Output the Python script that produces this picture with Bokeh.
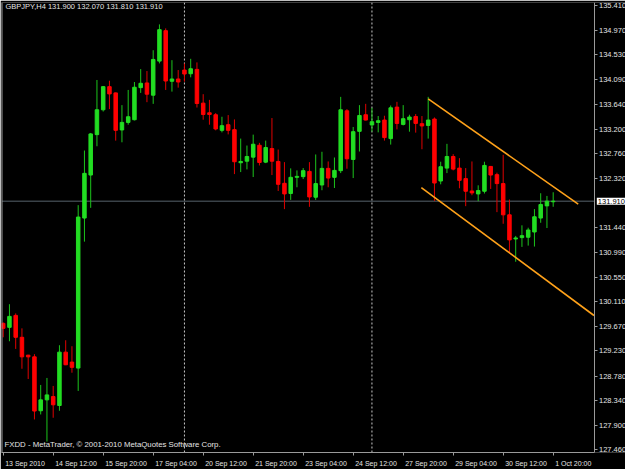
from bokeh.plotting import figure
from bokeh.models import ColumnDataSource, Range1d, FixedTicker, PrintfTickFormatter, Label, Span
from bokeh.embed import file_html
from bokeh.resources import INLINE

# ---------------- data (GBPJPY, H4) ----------------
opens = [129.723, 129.652, 129.866, 129.474, 129.154, 129.124, 128.159, 128.354, 128.413, 128.253,
         129.208, 129.030, 128.923, 131.608, 132.378, 133.101, 133.546, 133.960, 133.848, 133.185,
         133.320, 133.368, 133.942, 134.026, 133.807, 134.417, 134.962, 134.056, 134.097, 134.257,
         134.191, 134.269, 133.665, 133.492, 133.457, 133.178, 133.279, 133.190, 132.598, 132.626,
         132.698, 132.911, 132.609, 132.852, 132.621, 132.230, 132.047, 132.337, 132.349, 132.443,
         131.981, 132.200, 132.497, 132.337, 132.456, 133.528, 132.657, 133.160, 133.457, 133.274,
         133.320, 133.362, 133.030, 133.594, 133.284, 133.368, 133.426, 133.297, 133.266, 133.380,
         132.271, 132.502, 132.710, 132.502, 132.314, 132.093, 132.040, 132.088, 132.532, 132.385,
         132.225, 131.666, 131.234, 131.258, 131.265, 131.359, 131.608, 131.826, 131.900]
highs = [129.741, 130.066, 129.901, 129.634, 129.160, 129.172, 128.621, 128.746, 128.603, 129.332,
         129.421, 129.314, 131.839, 132.817, 133.131, 134.079, 133.972, 134.066, 133.855, 133.629,
         133.901, 134.043, 134.274, 134.239, 134.612, 135.074, 135.003, 134.434, 134.257, 134.376,
         134.458, 134.394, 133.825, 133.723, 133.487, 133.421, 133.451, 133.373, 133.030, 132.906,
         133.101, 132.954, 132.994, 133.398, 132.834, 132.609, 132.497, 132.461, 132.502, 132.609,
         132.746, 132.794, 132.621, 132.692, 133.777, 133.558, 133.238, 133.629, 133.652, 133.581,
         133.434, 133.439, 133.622, 133.688, 133.629, 133.457, 133.469, 133.434, 133.777, 133.409,
         132.616, 132.936, 132.751, 132.680, 132.502, 132.621, 132.194, 132.616, 132.540, 132.420,
         132.740, 131.940, 131.288, 131.478, 131.435, 131.768, 132.052, 132.004, 132.070]
lows = [129.474, 129.403, 129.266, 128.911, 128.728, 128.004, 128.093, 127.608, 128.034, 128.159,
        128.975, 128.840, 128.514, 131.186, 131.791, 132.893, 133.515, 133.558, 132.994, 132.964,
        133.279, 133.355, 133.848, 133.682, 133.652, 134.376, 133.901, 133.871, 133.942, 134.049,
        134.127, 133.586, 133.368, 133.279, 133.178, 133.142, 133.106, 132.395, 132.431, 132.479,
        132.342, 132.550, 132.591, 132.378, 132.093, 131.768, 131.933, 132.159, 132.306, 131.809,
        131.933, 132.106, 132.159, 132.146, 132.413, 132.491, 132.324, 132.799, 133.355, 133.154,
        133.142, 132.994, 132.923, 133.195, 133.266, 133.154, 133.137, 132.840, 133.030, 131.915,
        132.212, 132.413, 132.461, 132.141, 131.821, 132.017, 131.910, 132.047, 132.129, 131.714,
        131.506, 130.998, 130.826, 131.092, 131.115, 131.098, 131.524, 131.430, 131.810]
closes = [129.634, 129.848, 129.474, 129.124, 129.124, 128.154, 128.354, 128.443, 128.266, 129.208,
          128.982, 128.936, 131.626, 132.408, 133.114, 133.546, 133.960, 133.830, 133.178, 133.320,
          133.421, 133.949, 134.020, 133.825, 134.447, 134.980, 134.061, 134.097, 134.043, 134.186,
          134.280, 133.658, 133.462, 133.462, 133.202, 133.261, 133.178, 132.616, 132.621, 132.710,
          132.929, 132.603, 132.870, 132.626, 132.212, 132.040, 132.337, 132.354, 132.456, 131.986,
          132.225, 132.497, 132.324, 132.461, 133.546, 132.669, 133.154, 133.444, 133.362, 133.332,
          133.350, 133.048, 133.581, 133.302, 133.386, 133.416, 133.302, 133.256, 133.362, 132.235,
          132.527, 132.710, 132.484, 132.283, 132.088, 132.058, 132.100, 132.550, 132.378, 132.225,
          131.666, 131.217, 131.252, 131.293, 131.394, 131.631, 131.851, 131.910, 131.910]

time_labels = ["13 Sep 2010", "14 Sep 12:00", "15 Sep 20:00", "17 Sep 04:00", "20 Sep 12:00",
               "21 Sep 20:00", "23 Sep 04:00", "24 Sep 12:00", "27 Sep 20:00", "29 Sep 04:00",
               "30 Sep 12:00", "1 Oct 20:00"]
time_label_bars = [0, 8, 16, 24, 32, 40, 48, 56, 64, 72, 80, 88]
week_start_bars = [29, 59]

price_ticks = [135.410, 134.970, 134.530, 134.090, 133.640, 133.200, 132.760, 132.320,
               131.440, 130.990, 130.550, 130.110, 129.670, 129.230, 128.780, 128.340,
               127.900, 127.460]
bid_price = 131.910

channel_upper_bars = [68.0, 92.0]
channel_upper_prices = [133.741, 131.857]
channel_lower_bars = [66.9, 86.0]
channel_lower_prices = [132.154, 130.571]

header_text = "GBPJPY,H4  131.900 132.070 131.810 131.910"
footer_text = "FXDD - MetaTrader, \u00a9 2001-2010 MetaQuotes Software Corp."

# ---------------- style / layout ----------------
FONT = "Liberation Sans"
UP = "#22dd22"
DOWN = "#ff0000"
UP_WICK = "#1cc41c"
DOWN_WICK = "#e00000"
AXIS = "#9a9a9a"
TEXT = "#e4e4e4"

W, H = 625, 469
frame_left_px, frame_top_px = 1, 2
frame_w_px = W - frame_left_px          # frame spans to the right edge; price scale drawn inside it
px_per_bar = 6.25
first_bar_px = 2.7
price_scale_px = 593.5                  # position of the price-scale line on the canvas
y_lo, y_hi = 127.412, 135.466
x_start = -(first_bar_px - frame_left_px) / px_per_bar
x_end = x_start + frame_w_px / px_per_bar
axis_x = x_start + (price_scale_px - frame_left_px) / px_per_bar

p = figure(width=W, height=H, output_backend="svg", toolbar_location=None,
           x_range=Range1d(x_start, x_end), y_range=Range1d(y_lo, y_hi),
           y_axis_location="right",
           background_fill_color="#000000", border_fill_color="#000000",
           min_border_left=frame_left_px, min_border_top=frame_top_px,
           min_border_right=0, min_border_bottom=0)
p.grid.visible = False
p.outline_line_color = None

# y axis (price) at a fixed location inside the frame
ya = p.yaxis[0]
ya.fixed_location = axis_x
ya.ticker = FixedTicker(ticks=price_ticks)
ya.formatter = PrintfTickFormatter(format="%.3f")
ya.axis_line_color = AXIS
ya.major_tick_line_color = AXIS
ya.major_tick_out = 3
ya.major_tick_in = 0
ya.minor_tick_line_color = None
ya.major_label_text_color = TEXT
ya.major_label_text_font = FONT
ya.major_label_text_font_size = "7.5px"
ya.major_label_standoff = 2

# x axis (time) - labels start just right of their tick
def est_width(s, size):
    w = {' ': 0.278, ':': 0.278, 'S': 0.667, 'O': 0.778, 'c': 0.5, 't': 0.278}
    return sum(w.get(ch, 0.556) for ch in s) * size

lab_size = 7.0
centers = [b + (2 + est_width(t, lab_size) / 2) / px_per_bar for b, t in zip(time_label_bars, time_labels)]
xa = p.xaxis[0]
xa.bounds = (x_start, axis_x)
xa.ticker = FixedTicker(ticks=centers, minor_ticks=time_label_bars)
xa.major_label_overrides = {c: t for c, t in zip(centers, time_labels)}
xa.axis_line_color = AXIS
xa.major_tick_line_color = None
xa.major_tick_out = 0
xa.major_tick_in = 0
xa.minor_tick_line_color = AXIS
xa.minor_tick_out = 3
xa.minor_tick_in = 0
xa.major_label_text_color = TEXT
xa.major_label_text_font = FONT
xa.major_label_text_font_size = "%gpx" % lab_size
xa.major_label_standoff = 4

# chart border on the left
p.add_layout(Span(location=x_start + 0.5 / px_per_bar, dimension="height", line_color=AXIS, line_width=1))

# bid line (stops at the price scale) and week separators
p.line([x_start, axis_x], [bid_price, bid_price], line_color="#56626b", line_width=1, level="underlay")
for b in week_start_bars:
    p.add_layout(Span(location=b, dimension="height", line_color="#c8c8c8", line_width=1,
                      line_dash="2 2", level="underlay"))

# candles
bars = list(range(len(opens)))
inc = [c >= o for o, c in zip(opens, closes)]
src = ColumnDataSource(dict(
    x=bars, o=opens, h=highs, l=lows, c=closes,
    top=[max(o, c) for o, c in zip(opens, closes)],
    bottom=[min(o, c) for o, c in zip(opens, closes)],
    body=[UP if i else DOWN for i in inc],
    wick=[UP_WICK if i else DOWN_WICK for i in inc],
))
p.segment(x0="x", y0="h", x1="x", y1="l", line_color="wick", line_width=1, source=src)
p.vbar(x="x", width=0.56, top="top", bottom="bottom", fill_color="body", line_color="body",
       line_width=1, source=src)

# channel lines (lower one is a ray up to the price scale)
p.line(channel_upper_bars, channel_upper_prices, line_color="#ffa21a", line_width=1.6)
slope = (channel_lower_prices[1] - channel_lower_prices[0]) / (channel_lower_bars[1] - channel_lower_bars[0])
ray_x = [channel_lower_bars[0], axis_x]
ray_y = [channel_lower_prices[0], channel_lower_prices[0] + slope * (axis_x - channel_lower_bars[0])]
p.line(ray_x, ray_y, line_color="#ffa21a", line_width=1.6)

# texts
p.add_layout(Label(x=4, y=446, x_units="screen", y_units="screen", text=header_text,
                   text_font=FONT, text_font_size="7.5px", text_color=TEXT, text_baseline="middle"))
p.add_layout(Label(x=3, y=8, x_units="screen", y_units="screen", text=footer_text,
                   text_font=FONT, text_font_size="7.8px", text_color=TEXT, text_baseline="middle"))
# current bid marker on the price scale
p.add_layout(Label(x=axis_x + 0.45, y=bid_price, text="%.3f" % bid_price,
                   text_font=FONT, text_font_size="7.5px", text_color="#000000",
                   text_baseline="middle", background_fill_color="#ffffff", padding=1))

open("out.html", "w").write(file_html(p, INLINE))
